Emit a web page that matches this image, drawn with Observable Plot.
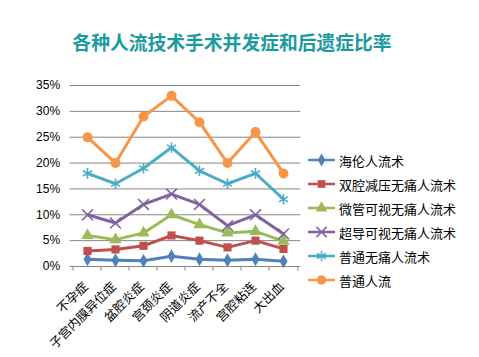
<!DOCTYPE html>
<html><head><meta charset="utf-8">
<script src="https://cdn.jsdelivr.net/npm/d3@7"></script>
<script src="https://cdn.jsdelivr.net/npm/@observablehq/plot@0.6"></script>
<style>
html,body{margin:0;padding:0;background:#fff;}
#wrap{position:relative;width:479px;height:357px;overflow:hidden;font-family:"Noto Sans CJK SC",sans-serif;}
#title{position:absolute;left:0;top:29px;width:464px;text-align:center;font-size:18.8px;font-weight:bold;color:#1a9ba0;line-height:26px;}
#legend{position:absolute;left:308px;top:148px;}
.row{height:24px;display:flex;align-items:center;font-size:13px;color:#000;white-space:nowrap;}
.row svg{margin-right:2px;}
#chart{position:absolute;left:0;top:0;}
</style></head>
<body><div id="wrap"><div id="chart"></div><div id="title">各种人流技术手术并发症和后遗症比率</div><div id="legend"></div></div>
<script>
const categories = ["不孕症","子宫内膜异位症","盆腔炎症","宫颈炎症","阴道炎症","流产不全","宫腔粘连","大出血"];
const seriesNames = ["海伦人流术","双腔减压无痛人流术","微管可视无痛人流术","超导可视无痛人流术","普通无痛人流术","普通人流"];
const hailun   = [1.4, 1.2, 1.1, 2.0, 1.4, 1.2, 1.4, 1.0];
const shuangqiang = [3.0, 3.3, 4.0, 6.0, 5.0, 3.7, 5.0, 3.4];
const weiguan  = [6.0, 5.2, 6.5, 10.0, 8.1, 6.5, 6.8, 4.9];
const chaodao  = [10.0, 8.4, 12.0, 14.0, 12.0, 7.9, 10.0, 6.3];
const putongWT = [18.0, 16.0, 19.0, 23.0, 18.5, 16.0, 18.0, 13.0];
const putong   = [25.0, 20.0, 29.0, 33.0, 27.9, 20.0, 26.0, 18.0];
const yTicks = [0,5,10,15,20,25,30,35];

const colors = ["#4f81bd","#c0504d","#9bbb59","#8064a2","#4bacc6","#f79646"];
const symbols = ["diamond","square","triangle","times","asterisk","circle"];
const filled = [true,true,true,false,false,true];
const sizes = [4.2,4.6,4.6,5,5,5];

const allSeries = [hailun, shuangqiang, weiguan, chaodao, putongWT, putong];
const data = [];
allSeries.forEach((vals, si) => vals.forEach((v, i) => data.push({cat: categories[i], series: seriesNames[si], value: v, si})));

const bw = (300.4 - 69.6) / categories.length;
const marks = [
  Plot.gridY(yTicks, {stroke: "#868686", strokeOpacity: 1, strokeWidth: 1}),
  Plot.ruleX([0], {frameAnchor: "left", stroke: "#868686"}),
  Plot.ruleX(categories, {x: d => d, dx: -bw/2, y1: 0, y2: -0.9, stroke: "#868686"}),
  Plot.ruleX([categories[categories.length-1]], {x: d => d, dx: bw/2, y1: 0, y2: -0.9, stroke: "#868686"}),
  Plot.axisY(yTicks, {tickFormat: d => d + "%", tickSize: 4, tickPadding: 6, fontSize: 12, fontFamily: "Liberation Sans, Arial, sans-serif", fill: "#000", stroke: null, label: null}),
  Plot.text(categories, {x: d => d, y: 0, text: d => d, rotate: -45, textAnchor: "end", lineAnchor: "middle", dx: -1.5, dy: 18, fontSize: 12.5, fontFamily: "Noto Sans CJK SC", fill: "#000"})
];
seriesNames.forEach((name, si) => {
  const d = data.filter(r => r.si === si);
  marks.push(Plot.line(d, {x: "cat", y: "value", stroke: colors[si], strokeWidth: 3}));
  marks.push(Plot.dot(d, {x: "cat", y: "value", symbol: () => symbols[si], r: sizes[si],
    fill: filled[si] ? colors[si] : "none", stroke: colors[si], strokeWidth: filled[si] ? 0 : 1.6}));
});

const chart = Plot.plot({
  width: 479, height: 357,
  marginTop: 85, marginBottom: 91, marginLeft: 69.6, marginRight: 178.6,
  x: {type: "band", domain: categories, padding: 0, axis: null},
  y: {domain: [0, 35], axis: null},
  symbol: {type: "identity"},
  style: {background: "transparent", overflow: "visible"},
  marks
});
document.getElementById("chart").appendChild(chart);

const lg = document.getElementById("legend");
seriesNames.forEach((name, si) => {
  const row = document.createElement("div"); row.className = "row";
  const sym = d3.symbol().type({diamond: d3.symbolDiamond, square: d3.symbolSquare, triangle: d3.symbolTriangle, times: d3.symbolTimes, asterisk: d3.symbolAsterisk, circle: d3.symbolCircle}[symbols[si]]).size(Math.PI * sizes[si] * sizes[si] * 0.9)();
  row.innerHTML = `<svg width="29" height="14"><line x1="0" x2="27" y1="7" y2="7" stroke="${colors[si]}" stroke-width="2.5"/><path transform="translate(13.5,7)" d="${sym}" fill="${filled[si] ? colors[si] : "none"}" stroke="${colors[si]}" stroke-width="${filled[si] ? 0 : 1.5}"/></svg><span>${name}</span>`;
  lg.appendChild(row);
});
</script></body></html>
